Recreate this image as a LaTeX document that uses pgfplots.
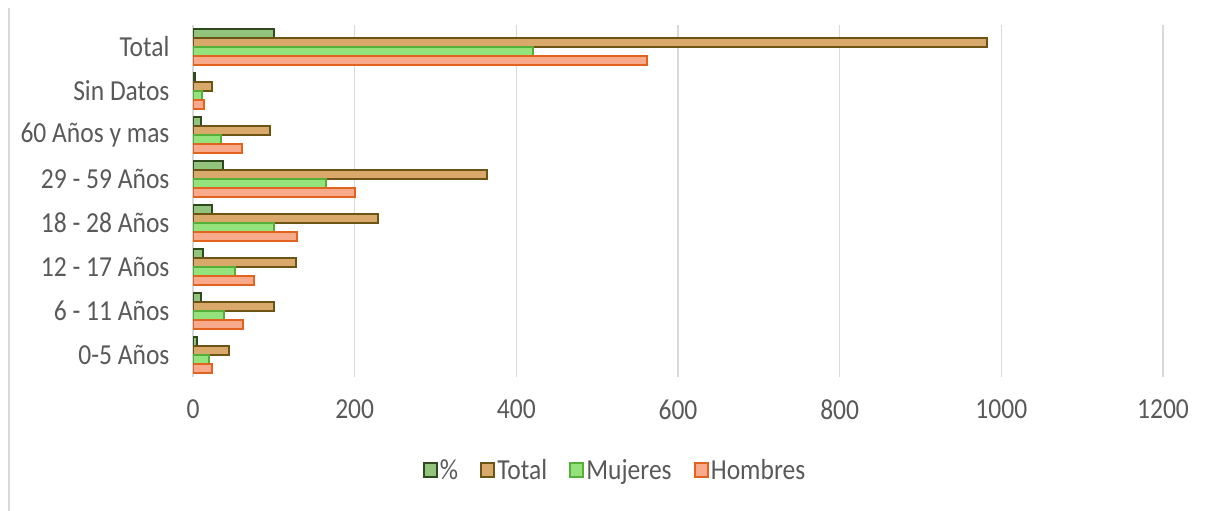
\documentclass[border=0pt]{standalone}
\usepackage{fontspec}
\setmainfont{Carlito}[FakeStretch=0.88]
\usepackage{pgfplots}
\pgfplotsset{compat=1.18}
\definecolor{txt}{HTML}{595959}
\definecolor{gridc}{HTML}{D9D9D9}
\definecolor{pctfill}{HTML}{93C47D}
\definecolor{pctdraw}{HTML}{2E4A1E}
\definecolor{totfill}{HTML}{D9A96B}
\definecolor{totdraw}{HTML}{6B5414}
\definecolor{mujfill}{HTML}{93E27C}
\definecolor{mujdraw}{HTML}{56B038}
\definecolor{homfill}{HTML}{F8AA8B}
\definecolor{homdraw}{HTML}{E2631F}
\begin{document}
\begin{tikzpicture}
\path[use as bounding box] (0,0) rectangle (1207pt,511pt);
\draw[gridc, line width=2.5pt] (9pt,0) -- (9pt,503pt);
\begin{axis}[
  at={(193pt,134pt)}, anchor=south west,
  width=970pt, height=352pt, scale only axis,
  xbar, bar width=0.2,
  xmin=0, xmax=1200, ymin=-0.5, ymax=7.5,
  xtick={0,200,...,1200},
  ytick={0,...,7},
  yticklabels={0-5 Años, 6 - 11 Años, 12 - 17 Años, 18 - 28 Años, 29 - 59 Años, 60 Años y mas, Sin Datos, Total},
  xmajorgrids, grid style={draw=gridc, line width=1.2pt},
  axis line style={draw=none},
  major tick length=0pt,
  tick label style={font=\fontsize{29}{34}\selectfont, text=txt},
  /pgf/number format/assume math mode=true,
  /pgf/number format/1000 sep={},
  scaled x ticks=false,
  xticklabel style={yshift=-19pt},
  yticklabel style={xshift=-20pt},
  legend columns=4,
  legend image code/.code={\draw[#1, line width=2.2pt] (0pt,-7pt) rectangle (13pt,7pt);},
  legend style={draw=none, fill=none, at={(0.435,-0.264)}, anchor=center,
    font=\fontsize{29}{34}\selectfont, text=txt,
    /tikz/every even column/.append style={column sep=20pt},
    /tikz/every odd column/.append style={column sep=0pt}},
]
\addplot[fill=pctfill, draw=pctdraw, line width=2pt, bar shift=0.3] coordinates {
(4.5,0) (10.2,1) (12.9,2) (23.3,3) (37.1,4) (9.7,5) (2.4,6) (100,7)};
\addplot[fill=totfill, draw=totdraw, line width=2pt, bar shift=0.1] coordinates {
(44,0) (100,1) (127,2) (229,3) (364,4) (95,5) (24,6) (982,7)};
\addplot[fill=mujfill, draw=mujdraw, line width=2pt, bar shift=-0.1] coordinates {
(20,0) (38,1) (52,2) (100,3) (164,4) (35,5) (11,6) (420,7)};
\addplot[fill=homfill, draw=homdraw, line width=2pt, bar shift=-0.3] coordinates {
(24,0) (62,1) (75,2) (129,3) (200,4) (60,5) (13,6) (562,7)};
\legend{\%, Total, Mujeres, Hombres}
\end{axis}
\end{tikzpicture}
\end{document}
